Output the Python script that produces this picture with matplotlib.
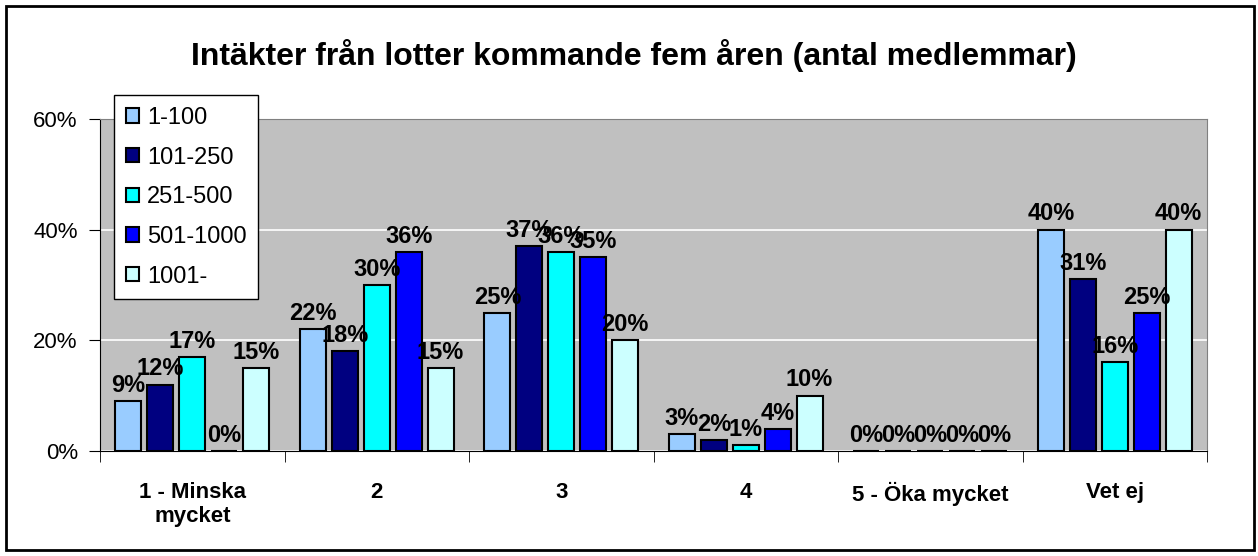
import numpy as np
import matplotlib
matplotlib.use("Agg")
import matplotlib.pyplot as plt
from matplotlib.patches import Rectangle

plt.rcParams['font.family'] = ['Liberation Sans', 'DejaVu Sans']

# data
categories = ['1 - Minska\nmycket', '2', '3', '4', '5 - Öka mycket', 'Vet ej']
series_names = ['1-100', '101-250', '251-500', '501-1000', '1001-']
s_1_100 = [9, 22, 25, 3, 0, 40]
s_101_250 = [12, 18, 37, 2, 0, 31]
s_251_500 = [17, 30, 36, 1, 0, 16]
s_501_1000 = [0, 36, 35, 4, 0, 25]
s_1001 = [15, 15, 20, 10, 0, 40]
y_ticks = [0, 20, 40, 60]
title = 'Intäkter från lotter kommande fem åren (antal medlemmar)'

series = [s_1_100, s_101_250, s_251_500, s_501_1000, s_1001]
colors = ['#99CCFF', '#000080', '#00FFFF', '#0000FF', '#CCFFFF']

fig = plt.figure(figsize=(12.58, 5.56), dpi=100)
ax = fig.add_axes([100/1258, 1-451/556, 1107/1258, 332/556])
ax.set_facecolor('#C0C0C0')

x = np.arange(len(categories))
bw = 0.141
step = 0.173
for i, (vals, col) in enumerate(zip(series, colors)):
    pos = x + (i - 2) * step
    bars = ax.bar(pos, vals, width=bw, color=col, edgecolor='black',
                  linewidth=1.5, label=series_names[i], zorder=3)
    for b, v in zip(bars, vals):
        ax.annotate(f'{v}%', (b.get_x() + b.get_width()/2, v),
                    xytext=(0, 3), textcoords='offset points',
                    ha='center', va='bottom', fontsize=17, fontweight='bold',
                    zorder=4)

ax.set_xlim(-0.5, len(categories) - 0.5)
ax.set_ylim(0, 60)
ax.set_yticks(y_ticks)
ax.set_yticklabels([f'{t}%' for t in y_ticks], fontsize=16)
ax.yaxis.grid(True, color='white', linewidth=1.2, zorder=0)
ax.set_axisbelow(True)

ax.set_xticks(x)
ax.set_xticklabels(categories, fontsize=16, fontweight='bold', va='top',
                   linespacing=1.2)
ax.tick_params(axis='x', length=0, pad=22)
ax.set_xticks(np.arange(len(categories) + 1) - 0.5, minor=True)
ax.tick_params(axis='x', which='minor', length=8, direction='out')
ax.tick_params(axis='y', length=8, direction='out', pad=8)

for s in ['top', 'right']:
    ax.spines[s].set_color('#808080')
for s in ['left', 'bottom']:
    ax.spines[s].set_color('black')

fig.suptitle(title, fontsize=23, fontweight='bold', x=634/1258,
             y=1-55/556, va='center')

leg = ax.legend(loc='upper left', bbox_to_anchor=(114/1258, 1-95/556),
                bbox_transform=fig.transFigure, borderaxespad=0,
                fontsize=17, frameon=True, fancybox=False, edgecolor='black',
                handlelength=0.55, handleheight=0.55, labelspacing=0.75,
                handletextpad=0.35, borderpad=0.5)
leg.get_frame().set_linewidth(1.0)
leg.get_frame().set_facecolor('white')
leg.get_frame().set_alpha(1)
for h in leg.legend_handles:
    h.set_linewidth(1.5)

fig.patches.append(Rectangle((6/1258, 6/556), 1248/1258, 544/556,
                             transform=fig.transFigure, fill=False,
                             edgecolor='black', linewidth=2))

fig.savefig('out.png', dpi=100)
